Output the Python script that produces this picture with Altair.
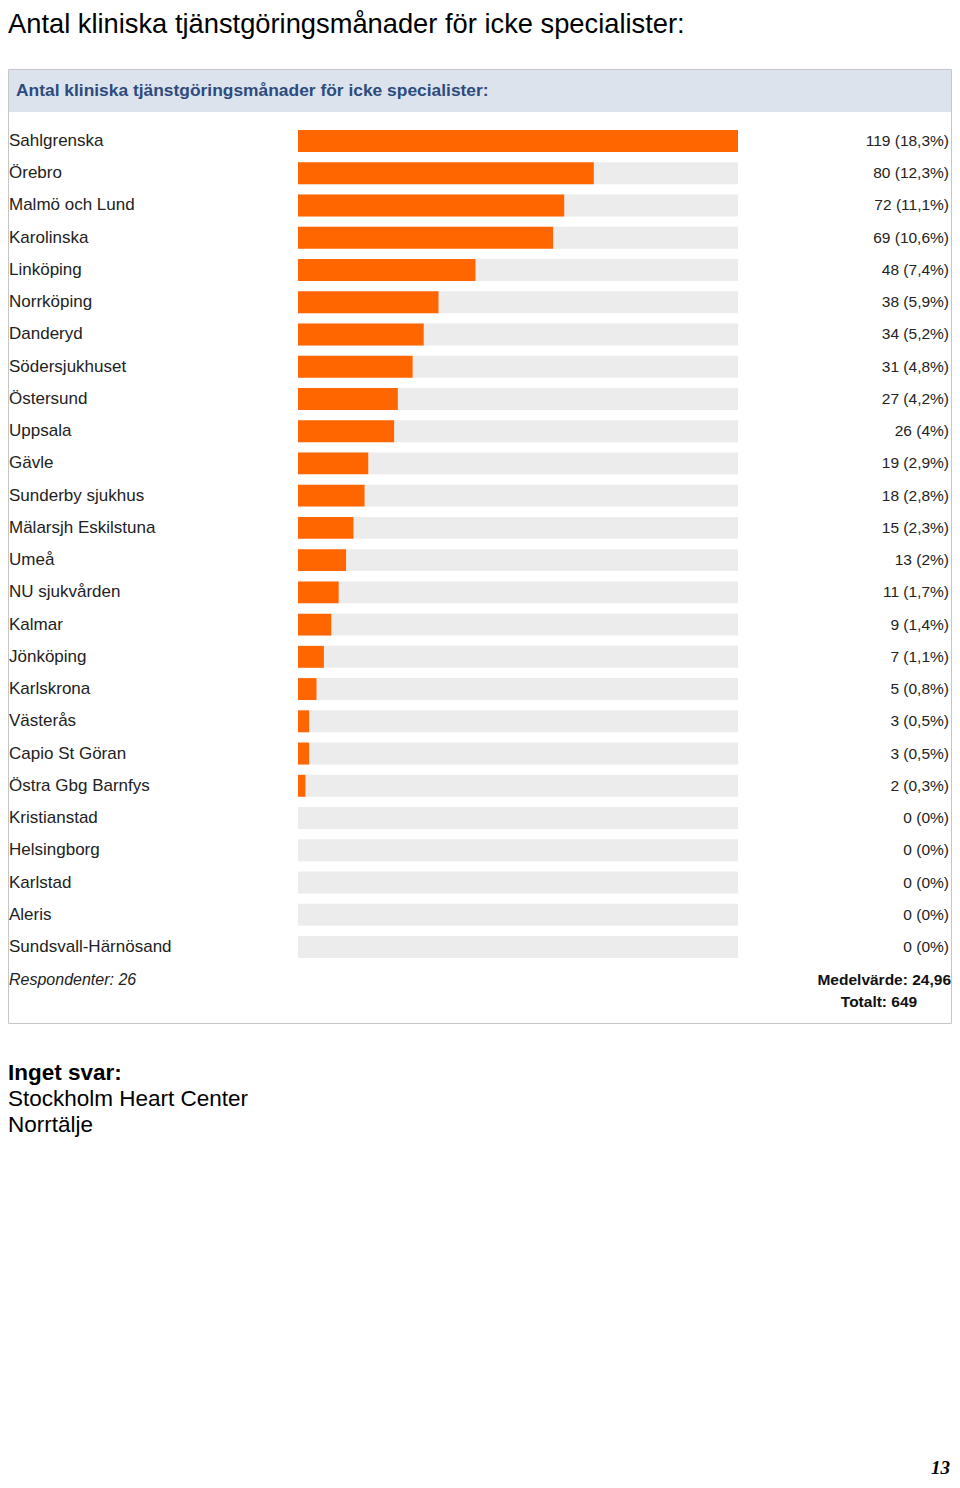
import altair as alt
import pandas as pd

# ---- data ----
categories = [
    "Sahlgrenska", "Örebro", "Malmö och Lund", "Karolinska", "Linköping",
    "Norrköping", "Danderyd", "Södersjukhuset", "Östersund", "Uppsala",
    "Gävle", "Sunderby sjukhus", "Mälarsjh Eskilstuna", "Umeå", "NU sjukvården",
    "Kalmar", "Jönköping", "Karlskrona", "Västerås", "Capio St Göran",
    "Östra Gbg Barnfys", "Kristianstad", "Helsingborg", "Karlstad", "Aleris",
    "Sundsvall-Härnösand",
]
values = [119, 80, 72, 69, 48, 38, 34, 31, 27, 26, 19, 18, 15, 13, 11, 9, 7, 5,
          3, 3, 2, 0, 0, 0, 0, 0]
percents = ["18,3%", "12,3%", "11,1%", "10,6%", "7,4%", "5,9%", "5,2%", "4,8%",
            "4,2%", "4%", "2,9%", "2,8%", "2,3%", "2%", "1,7%", "1,4%", "1,1%",
            "0,8%", "0,5%", "0,5%", "0,3%", "0%", "0%", "0%", "0%", "0%"]

page_title = "Antal kliniska tjänstgöringsmånader för icke specialister:"
box_title = "Antal kliniska tjänstgöringsmånader för icke specialister:"
respondents_text = "Respondenter: 26"
mean_text = "Medelvärde: 24,96"
total_text = "Totalt: 649"
no_answer_title = "Inget svar:"
no_answer = ["Stockholm Heart Center", "Norrtälje"]
page_number = "13"

df = pd.DataFrame({"category": categories, "value": values, "pct": percents})
df["label"] = df["value"].astype(str) + " (" + df["pct"] + ")"
df["zero"] = 0
df["full"] = max(values)

one = pd.DataFrame({"k": [0]})

W, H = 944, 1471
SANS = "Liberation Sans"

yscale = alt.Scale(domain=categories, range=[116.9, 955.1],
                   paddingInner=0.32, paddingOuter=0.16)
xscale = alt.Scale(domain=[0, max(values)], range=[290, 730], nice=False, zero=True)
Y = alt.Y("category:N", scale=yscale, axis=None)

box = alt.Chart(one).mark_rect(fill="white", stroke="#c6c6c6", strokeWidth=1).encode(
    x=alt.value(0.5), x2=alt.value(943.5), y=alt.value(61.5), y2=alt.value(1015.5))
header = alt.Chart(one).mark_rect(fill="#dde3ed").encode(
    x=alt.value(1), x2=alt.value(943), y=alt.value(62), y2=alt.value(104))
header_text = alt.Chart(one).mark_text(
    text=box_title, align="left", baseline="middle", font=SANS, fontSize=17.4,
    fontWeight="bold", color="#2d4b7c").encode(x=alt.value(8), y=alt.value(83))

track = alt.Chart(df).mark_bar(color="#ececec").encode(
    y=Y, x=alt.X("zero:Q", scale=xscale, axis=None), x2="full:Q")
bars = alt.Chart(df).mark_bar(color="#ff6600").encode(
    y=Y, x=alt.X("value:Q", scale=xscale, axis=None))
names = alt.Chart(df).mark_text(align="left", baseline="middle", font=SANS,
                                fontSize=17, color="#222222").encode(
    y=Y, x=alt.value(1), text="category:N")
nums = alt.Chart(df).mark_text(align="right", baseline="middle", font=SANS,
                               fontSize=15.5, color="#222222").encode(
    y=Y, x=alt.value(941), text="label:N")

resp = alt.Chart(one).mark_text(text=respondents_text, align="left", baseline="middle",
                                font=SANS, fontSize=16, fontStyle="italic",
                                color="#222222").encode(x=alt.value(1), y=alt.value(972))
mean = alt.Chart(one).mark_text(text=mean_text, align="right", baseline="middle",
                                font=SANS, fontSize=15.5, fontWeight="bold",
                                color="#111111").encode(x=alt.value(943), y=alt.value(972))
tot = alt.Chart(one).mark_text(text=total_text, align="center", baseline="middle",
                               font=SANS, fontSize=15.5, fontWeight="bold",
                               color="#111111").encode(x=alt.value(871), y=alt.value(994))

ptitle = alt.Chart(one).mark_text(text=page_title, align="left", baseline="alphabetic",
                                  font=SANS, fontSize=27.3, color="#000000").encode(
    x=alt.value(0), y=alt.value(25))

na_title = alt.Chart(one).mark_text(text=no_answer_title, align="left", baseline="alphabetic",
                                    font=SANS, fontSize=22.5, fontWeight="bold",
                                    color="#000000").encode(x=alt.value(0), y=alt.value(1072))
na_df = pd.DataFrame({"name": no_answer, "row": list(range(len(no_answer)))})
na_list = alt.Chart(na_df).mark_text(align="left", baseline="alphabetic", font=SANS,
                                     fontSize=22.5, color="#000000").encode(
    x=alt.value(0),
    y=alt.Y("row:O", scale=alt.Scale(type="point", domain=list(range(len(no_answer))),
                                     range=[1098, 1124], padding=0), axis=None),
    text="name:N")

pnum = alt.Chart(one).mark_text(text=page_number, align="right", baseline="alphabetic",
                                font="Liberation Serif", fontSize=19, fontWeight="bold",
                                fontStyle="italic", color="#000000").encode(
    x=alt.value(942), y=alt.value(1466))

chart = alt.layer(
    box, header, header_text, track, bars, names, nums, resp, mean, tot,
    ptitle, na_title, na_list, pnum
).resolve_scale(y="independent").properties(
    width=W, height=H, padding=0, autosize=alt.AutoSizeParams(type="none")
).configure_view(stroke=None)

chart.save("out.html", embed_options={"renderer": "svg", "actions": False})
